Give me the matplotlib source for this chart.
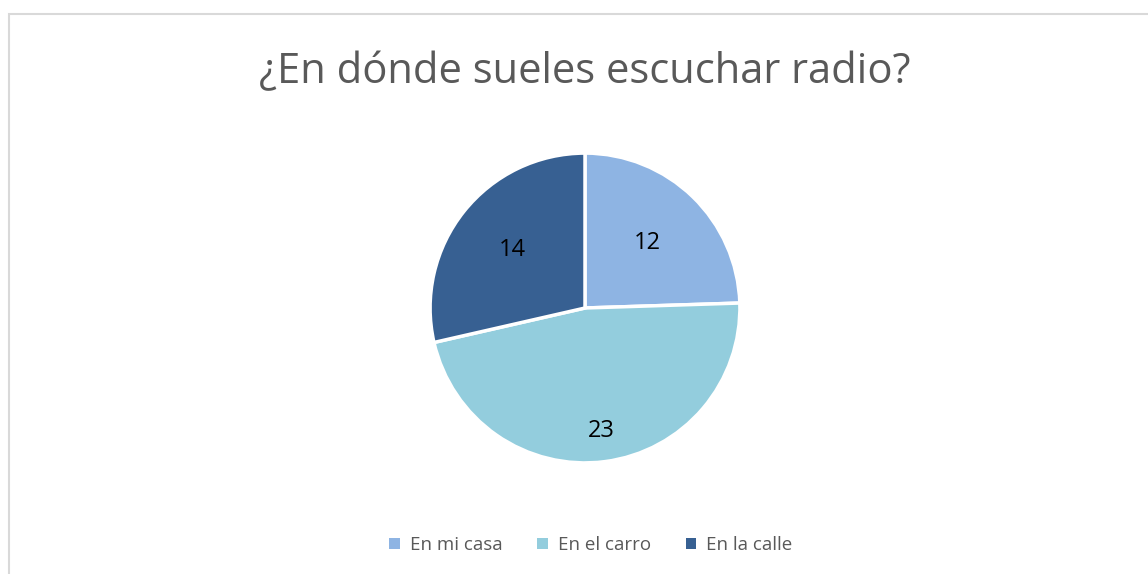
import matplotlib
matplotlib.use("Agg")
import matplotlib.pyplot as plt
from matplotlib.patches import Rectangle
import numpy as np

title = "¿En dónde sueles escuchar radio?"
categories = ["En mi casa", "En el carro", "En la calle"]
values = [12, 23, 14]
colors = ["#8EB4E3", "#93CDDD", "#376092"]
label_dist = [0.58, 0.8, 0.6]

W, H = 1148, 574
fig = plt.figure(figsize=(W / 100, H / 100), dpi=100)
fig.patch.set_facecolor("white")

# chart border
fig.patches.append(Rectangle((8.5 / W, -0.1), 1.2, 1 - 14.5 / H + 0.1,
                             transform=fig.transFigure, fill=False,
                             edgecolor="#D9D9D9", linewidth=1.5))

cx, cy, r = 585, 308, 158
ax = fig.add_axes([(cx - r) / W, (H - cy - r) / H, 2 * r / W, 2 * r / H])
wedges, _ = ax.pie(values, colors=colors, startangle=90, counterclock=False,
                   radius=1, wedgeprops=dict(edgecolor="white", linewidth=2.5))
ax.set_xlim(-1.02, 1.02)
ax.set_ylim(-1.02, 1.02)
ax.set_aspect("equal")
ax.axis("off")

for w, v, d in zip(wedges, values, label_dist):
    ang = np.deg2rad((w.theta1 + w.theta2) / 2)
    ax.text(d * np.cos(ang), d * np.sin(ang), str(v), ha="center", va="center",
            fontsize=17, color="black", family="Open Sans")

fig.text(cx / W, 1 - 72 / H, title, ha="center", va="center",
         fontsize=30, color="#595959", family="Open Sans")

handles = [Rectangle((0, 0), 1, 1, facecolor=c, edgecolor="none") for c in colors]
fig.legend(handles, categories, loc="center", bbox_to_anchor=(591 / W, 1 - 545 / H),
           ncol=3, frameon=False, handlelength=0.55, handleheight=0.55,
           handletextpad=0.55, columnspacing=1.85,
           prop=dict(family="Open Sans", size=13.5), labelcolor="#595959")

fig.savefig("out.png", dpi=100, facecolor="white")
